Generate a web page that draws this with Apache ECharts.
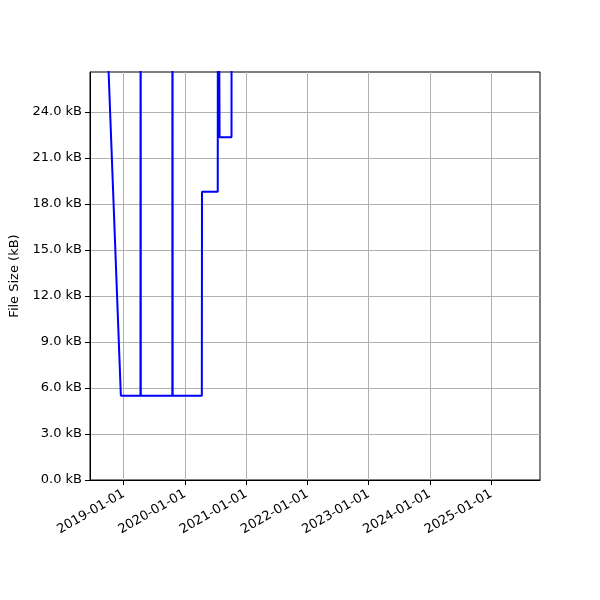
<!DOCTYPE html>
<html>
<head>
<meta charset="utf-8">
<script src="https://cdn.jsdelivr.net/npm/echarts@6/dist/echarts.min.js"></script>
<style>
  html, body { margin: 0; padding: 0; background: #fff; }
  #chart_box { width: 600px; height: 600px; }
</style>
</head>
<body>
<div id="chart_box"></div>
<script>
// file size history (kB); spikes above the visible range get clipped
var dates = [
  "2018-09-25", "2018-12-15",
  "2019-04-11", "2019-04-12", "2019-04-13",
  "2019-10-18", "2019-10-19", "2019-10-20",
  "2020-04-11", "2020-04-12",
  "2020-07-15", "2020-07-16", "2020-07-26",
  "2020-10-05", "2020-10-06", "2021-06-01", "2023-03-01", "2025-06-20"
];
var sizes = [
  28.9, 5.5,
  5.5, 48.0, 5.5,
  5.5, 52.0, 5.5,
  5.5, 18.8,
  18.8, 46.0, 22.35,
  22.35, 45.0, 47.0, 50.0, 55.0
];
var yearTicks = ["2019-01-01", "2020-01-01", "2021-01-01", "2022-01-01", "2023-01-01", "2024-01-01", "2025-01-01"];
var yTicks = [0, 3, 6, 9, 12, 15, 18, 21, 24];

function toTime(s) {
  var p = s.split("-");
  return Date.UTC(+p[0], +p[1] - 1, +p[2]);
}
function pad(n) { return n < 10 ? "0" + n : "" + n; }

var myecharts = echarts.init(document.getElementById("chart_box"));
var tickTimes = yearTicks.map(toTime);
var seriesData = dates.map(function (d, i) { return [toTime(d), sizes[i]]; });

var axisText = { color: "#000", fontFamily: "DejaVu Sans", fontSize: 13 };

var option = {
  backgroundColor: "#fff",
  animation: false,
  grid: {
    left: 90, right: 60, top: 72, bottom: 120,
    show: true, borderColor: "#000", borderWidth: 1
  },
  xAxis: {
    type: "value",
    scale: true,
    min: toTime("2018-06-14"),
    max: toTime("2025-10-19"),
    axisLine: { show: true, onZero: false, lineStyle: { color: "#000", width: 1 } },
    axisTick: { show: true, length: 5, lineStyle: { color: "#000" }, customValues: tickTimes },
    axisLabel: Object.assign({}, axisText, {
      customValues: tickTimes,
      rotate: 30,
      margin: 13,
      formatter: function (v) {
        var d = new Date(v);
        return d.getUTCFullYear() + "-" + pad(d.getUTCMonth() + 1) + "-" + pad(d.getUTCDate());
      }
    }),
    splitLine: { show: true, lineStyle: { color: "#b0b0b0", width: 1 } }
  },
  yAxis: {
    type: "value",
    min: 0,
    max: 26.6,
    name: "File Size (kB)",
    nameLocation: "middle",
    nameGap: 68,
    nameTextStyle: axisText,
    axisLine: { show: true, lineStyle: { color: "#000", width: 1 } },
    axisTick: { show: true, length: 5, lineStyle: { color: "#000" }, customValues: yTicks },
    axisLabel: Object.assign({}, axisText, {
      customValues: yTicks,
      margin: 8,
      formatter: function (v) { return v.toFixed(1) + " kB"; }
    }),
    splitLine: { show: true, lineStyle: { color: "#b0b0b0", width: 1 } }
  },
  series: [
    {
      type: "line",
      data: seriesData,
      showSymbol: false,
      clip: true,
      lineStyle: { color: "#0000ff", width: 2 }
    }
  ]
};
myecharts.setOption(option);
</script>
</body>
</html>
